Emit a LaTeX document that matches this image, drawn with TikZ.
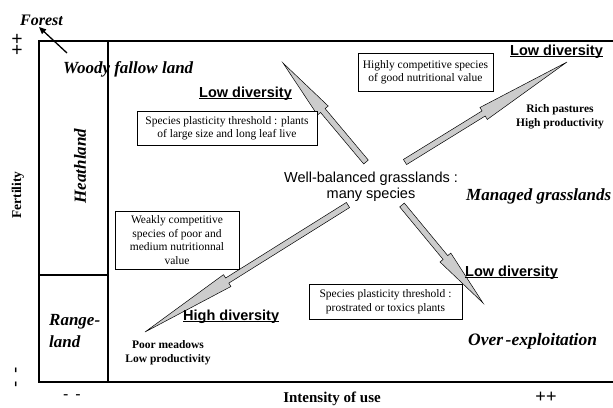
\documentclass[tikz,border=0pt]{standalone}
\usepackage{fontspec}
\setmainfont{Liberation Serif}
\setsansfont{Liberation Sans}
\usetikzlibrary{calc,arrows.meta}
\newcommand\ulx[1]{\setbox0\hbox{#1}\rlap{\rule[-1.9pt]{\wd0}{1.3pt}}\box0}
\newcommand\grarrow[3]{%
  \path ($(#2)!#3!(#1)$) coordinate (hb);
  \filldraw[bigarr] ($(#1)!3pt!90:(#2)$) -- ($(hb)!3pt!-90:(#1)$) -- ($(hb)!7pt!-90:(#1)$) -- (#2) -- ($(hb)!7pt!90:(#1)$) -- ($(hb)!3pt!90:(#1)$) -- ($(#1)!3pt!-90:(#2)$) -- cycle;}
\tikzset{
  bigarr/.style={fill=black!20, draw=black, line width=0.5pt, line join=miter},
  infobox/.style={draw, line width=0.7pt, fill=white, align=center, inner sep=2pt, font=\fontsize{11.5}{13.5}\selectfont},
  zone/.style={font=\bfseries\itshape\fontsize{17}{22}\selectfont, inner sep=0pt},
  divlab/.style={font=\sffamily\bfseries\fontsize{14.5}{17}\selectfont, inner sep=0pt},
  prodlab/.style={font=\bfseries\fontsize{11.5}{14}\selectfont, align=center, inner sep=0pt},
  axlab/.style={font=\bfseries\fontsize{15}{17}\selectfont, inner sep=0pt},
  sign/.style={font=\sffamily\fontsize{19}{20}\selectfont, inner sep=0pt},
  frameline/.style={line width=1.1pt}
}
\begin{document}
\begin{tikzpicture}[x=1pt,y=-1pt]
\useasboundingbox (0,0) rectangle (613,407);
% frame
\draw[frameline] (613,41) -- (39,41) -- (39,382) -- (613,382);
\draw[frameline] (108,41) -- (108,382);
\draw[frameline] (39,275) -- (108,275);

% arrow end points
\coordinate (t1) at (366,162); \coordinate (e1) at (283,63);
\coordinate (t2) at (405,162); \coordinate (e2) at (567,62);
\coordinate (t3) at (402,205); \coordinate (e3) at (483,303);
\coordinate (t4) at (348,205); \coordinate (e4) at (145,332);
\grarrow{t1}{e1}{62pt}
\grarrow{t2}{e2}{98pt}
\grarrow{t3}{e3}{59pt}
\grarrow{t4}{e4}{97pt}

% boxes
\node[infobox, minimum width=180pt, minimum height=34pt] (b1) at (227,128) {Species plasticity threshold : plants\\of large size and long leaf live};
\node[infobox, minimum width=135pt, minimum height=38pt] (b2) at (425.5,72) {Highly competitive species\\of good nutritional value};
\node[infobox, minimum width=124pt, minimum height=58pt] (b3) at (177,240) {Weakly competitive\\species of poor and\\medium nutritionnal\\value};
\node[infobox, minimum width=153pt, minimum height=35pt] (b4) at (385.5,301.5) {Species plasticity threshold :\\prostrated or toxics plants};

% centre
\node[font=\sffamily\fontsize{14.5}{16}\selectfont, align=center, inner sep=0pt] (wb) at (371,187) {Well-balanced grasslands :\\many species};

% zones
\node[zone, anchor=base west, font=\bfseries\itshape\fontsize{16}{18}\selectfont] (forest) at (20,25) {Forest};
\node[zone, anchor=base west] (woody) at (63,73) {Woody fallow land};
\node[zone, anchor=base west] (managed) at (466,200) {Managed grasslands};
\node[zone, anchor=base west, font=\bfseries\itshape\fontsize{17.5}{22}\selectfont] (over) at (468,345) {Over\hspace{2.5pt}-exploitation};
\node[zone, rotate=90] (heath) at (80,166) {Heathland};
\node[zone, anchor=base west, align=left] (range) at (49,325) {Range-};
\node[zone, anchor=base west, align=left] (rangeb) at (49,347) {land};

\coordinate (wf1) at (67,53); \coordinate (wf2) at (39,27);
\draw[line width=1.3pt, -{Triangle[length=7pt,width=6pt]}] (wf1) -- (wf2);

% diversity labels
\node[divlab, anchor=base west] (ld1) at (199,97) {\ulx{Low diversity}};
\node[divlab, anchor=base west] (ld2) at (510,55) {\ulx{Low diversity}};
\node[divlab, anchor=base west] (ld3) at (465,276) {\ulx{Low diversity}};
\node[divlab, anchor=base west] (hd) at (183,320) {\ulx{High diversity}};

% productivity labels
\node[prodlab] (rich) at (560,117) {Rich pastures\\High productivity};
\node[prodlab] (poor) at (168,353) {Poor meadows\\Low productivity};

% axes
\node[axlab, rotate=90, font=\bfseries\fontsize{13.5}{15}\selectfont] (fert) at (18,195) {Fertility};
\node[axlab, anchor=base] (int) at (332,402) {Intensity of use};
\node[sign, rotate=90] (pp1) at (18,44) {++};
\node[sign, rotate=90] (mm1) at (18,377) {-\hspace{8pt}-};
\node[sign, font=\sffamily\fontsize{18}{20}\selectfont] (pp2) at (546,397) {++};
\node[sign, font=\sffamily\fontsize{16}{18}\selectfont] (mm2) at (72,397) {-\hspace{7pt}-};
\end{tikzpicture}
\end{document}
